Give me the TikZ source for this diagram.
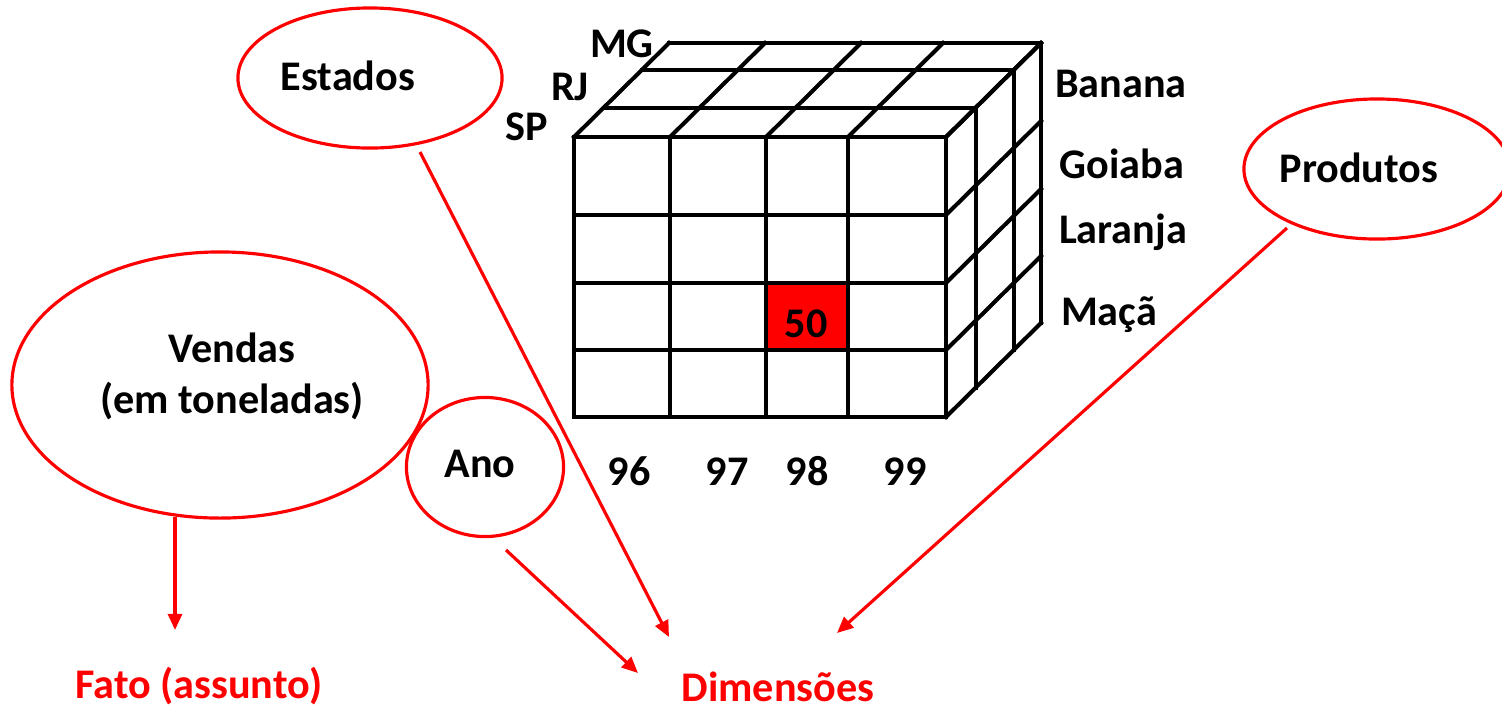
\documentclass[tikz,border=0pt]{standalone}
\usepackage{fontspec}
\setmainfont{Carlito}
\usetikzlibrary{shapes.geometric,arrows.meta}
\begin{document}
\begin{tikzpicture}[x=0.01cm,y=-0.01cm,
  cube/.style={line width=1.15pt, line cap=rect},
  oval/.style={ellipse, draw=red, line width=0.9pt, inner sep=0pt, outer sep=0pt},
  lbl/.style={font=\fontsize{12}{14}\selectfont\bfseries, anchor=base, inner sep=0pt},
  redlbl/.style={lbl, text=red},
  arr/.style={draw=red, line width=0.9pt, -{Triangle[length=4.6pt,width=4pt]}}]
\useasboundingbox (0,0) rectangle (1502,705);
\clip (0,0) rectangle (1502,705);

% highlighted cell of the cube
\fill[red] (766,283) rectangle (848,350);

% front face grid
\foreach \x in {574,670,766,848,946} \draw[cube] (\x,137) -- (\x,417);
\foreach \y in {137,215,283,350,417} \draw[cube] (574,\y) -- (946,\y);
% top face: layer edges and column diagonals
\foreach \dx/\dy in {30/29,68/67,95/94} \draw[cube] (574+\dx,137-\dy) -- (946+\dx,137-\dy);
\foreach \x in {574,670,766,848,946} \draw[cube] (\x,137) -- (\x+95,43);
% right face: layer edges and row diagonals
\foreach \dx/\dy in {30/29,68/67,95/94} \draw[cube] (946+\dx,137-\dy) -- (946+\dx,417-\dy);
\foreach \y in {137,215,283,350,417} \draw[cube] (946,\y) -- (1041,\y-94);

% cube labels
\node[lbl] (v50) at (806,337) {50};
\node[lbl] (mg) at (622,57) {MG};
\node[lbl] (rj) at (570,100) {RJ};
\node[lbl] (sp) at (527,140) {SP};
\node[lbl] (banana) at (1121,97) {Banana};
\node[lbl] (goiaba) at (1122,178) {Goiaba};
\node[lbl] (laranja) at (1123,243) {Laranja};
\node[lbl] (maca) at (1109,325) {Maçã};
\node[lbl] (a96) at (629,485) {96};
\node[lbl] (a97) at (727,485) {97};
\node[lbl] (a98) at (807,485) {98};
\node[lbl] (a99) at (905,485) {99};

% ellipses
\node[oval, minimum width=2.64cm, minimum height=1.40cm] (est) at (370,78) {};
\node[oval, minimum width=4.16cm, minimum height=2.66cm] (vend) at (220,385) {};
\node[oval, minimum width=1.57cm, minimum height=1.39cm] (ano) at (485,467) {};
\node[oval, minimum width=2.66cm, minimum height=1.40cm] (prod) at (1377,169) {};

\node[lbl] (estT) at (348,90) {Estados};
\node[lbl] (vendT1) at (232,362) {Vendas};
\node[lbl] (vendT2) at (232,413) {(em toneladas)};
\node[lbl] (anoT) at (480,477) {Ano};
\node[lbl] (prodT) at (1359,182) {Produtos};

% bottom captions
\node[redlbl] (fato) at (199,698) {Fato (assunto)};
\node[redlbl] (dim) at (778,701) {Dimensões};

% arrow end points
\coordinate (vendFoot) at (175,517);
\coordinate (fatoTip) at (175,630);
\coordinate (anoFoot) at (506,550);
\coordinate (anoTip) at (638,673);
\coordinate (estFoot) at (420,152);
\coordinate (estTip) at (669,637);
\coordinate (prodFoot) at (1287,228);
\coordinate (prodTip) at (837,633);

\draw[arr] (vendFoot) -- (fatoTip);
\draw[arr] (anoFoot) -- (anoTip);
\draw[arr] (estFoot) -- (estTip);
\draw[arr] (prodFoot) -- (prodTip);
\end{tikzpicture}
\end{document}
